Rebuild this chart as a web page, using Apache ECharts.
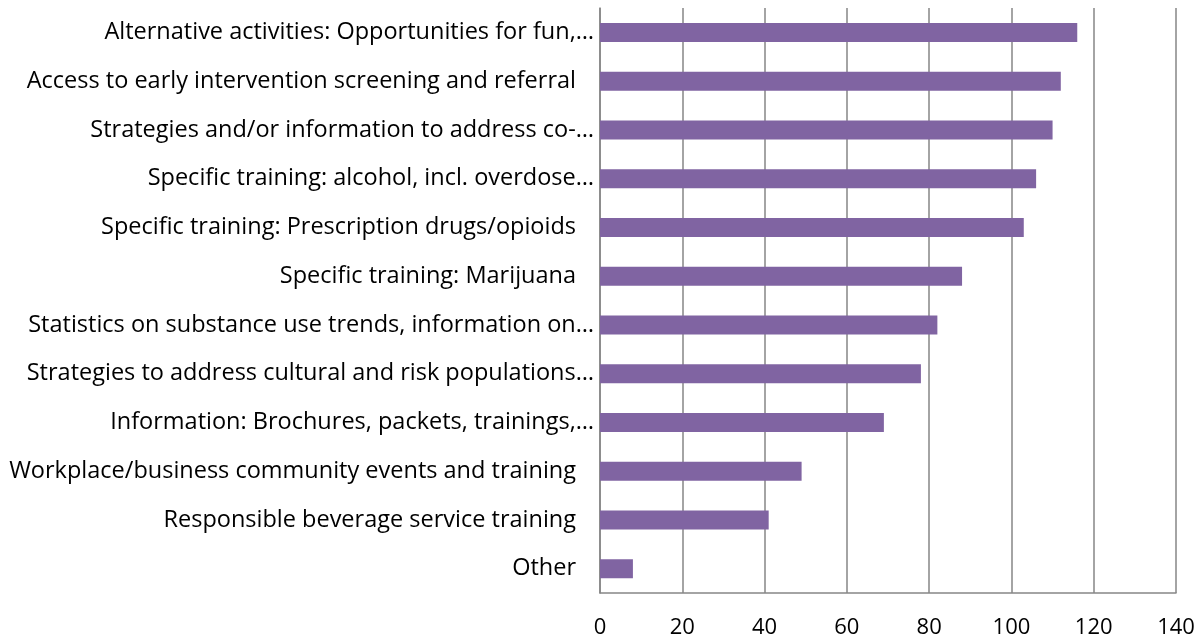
<!DOCTYPE html>
<html>
<head>
<meta charset="utf-8">
<script src="https://cdn.jsdelivr.net/npm/echarts@6/dist/echarts.min.js"></script>
<style>
html,body{margin:0;padding:0;background:#fff;}
#chart{width:1202px;height:643px;}
</style>
</head>
<body>
<div id="chart"></div>
<script>
const categories = [
  "Alternative activities: Opportunities for fun,…",
  "Access to early intervention screening and referral",
  "Strategies and/or information to address co-…",
  "Specific training: alcohol, incl. overdose…",
  "Specific training: Prescription drugs/opioids",
  "Specific training: Marijuana",
  "Statistics on substance use trends, information on…",
  "Strategies to address cultural and risk populations…",
  "Information: Brochures, packets, trainings,…",
  "Workplace/business community events and training",
  "Responsible beverage service training",
  "Other"
];
const values = [116, 112, 110, 106, 103, 88, 82, 78, 69, 49, 41, 8];
const xTicks = { min: 0, max: 140, interval: 20 };

const FONT = 'Open Sans';
const LSIZE = 23.5;
const chart = echarts.init(document.getElementById('chart'), null, { renderer: 'canvas' });
chart.setOption({
  animation: false,
  grid: { left: 600, right: 26, top: 8, bottom: 50, containLabel: false },
  xAxis: {
    type: 'value',
    min: xTicks.min, max: xTicks.max, interval: xTicks.interval,
    axisLine: { show: true, lineStyle: { color: '#868686', width: 1.5 } },
    axisTick: { show: false },
    splitLine: { show: true, lineStyle: { color: '#868686', width: 1.5 } },
    axisLabel: { color: '#000', fontFamily: FONT, fontSize: 22, margin: 24 }
  },
  yAxis: {
    type: 'category',
    inverse: true,
    data: categories,
    axisLine: { show: true, lineStyle: { color: '#868686', width: 1.5 } },
    axisTick: { show: false },
    axisLabel: {
      color: '#000', fontFamily: FONT, fontSize: LSIZE, margin: 6,
      formatter: function (v) {
        return v.endsWith('…') ? '{t|' + v + '}' : '{f|' + v + '}';
      },
      rich: {
        t: { color: '#000', fontFamily: FONT, fontSize: LSIZE },
        f: { color: '#000', fontFamily: FONT, fontSize: LSIZE, padding: [0, 18, 0, 0] }
      }
    }
  },
  series: [{
    type: 'bar',
    data: values,
    barWidth: 19,
    itemStyle: { color: '#8064A2' }
  }]
});
</script>
</body>
</html>
